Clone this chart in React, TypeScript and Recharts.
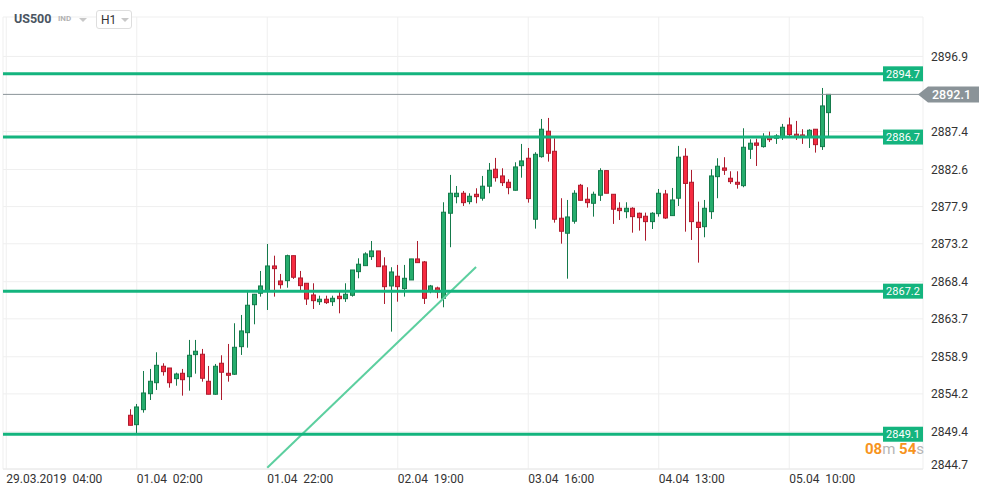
import React from "react";
import { Bar, CartesianGrid, ComposedChart, ReferenceLine, XAxis, YAxis } from "recharts";

// hourly candles, index 0 = 01.04 01:00
const open = [
  2851.5, 2850.31, 2852.21, 2854.23, 2855.62, 2857.7, 2857.48, 2856.13, 2856.81, 2856.38,
  2859.17, 2859.22, 2855.8, 2854.16, 2858.08, 2856.81, 2856.69, 2860.18, 2861.95, 2865.49,
  2866.94, 2867.26, 2870.39, 2868.49, 2868.53, 2871.69, 2868.87, 2868.2, 2866.72, 2865.87,
  2866.18, 2865.87, 2866.56, 2866.25, 2866.68, 2869.67, 2870.43, 2871.57, 2872.29, 2870.39,
  2867.86, 2869.09, 2867.52, 2868.62, 2871.28, 2870.9, 2867.26, 2867.61, 2866.3, 2877.06,
  2879.16, 2879.59, 2878.53, 2879.46, 2878.96, 2880.48, 2882.63, 2881.78, 2880.98, 2879.97,
  2883.08, 2884.02, 2876.3, 2884.22, 2887.44, 2884.9, 2876.43, 2874.53, 2876.05, 2880.6,
  2878.83, 2878.32, 2879.34, 2882.45, 2879.46, 2877.69, 2877.26, 2877.69, 2877.06, 2876.68,
  2876.0, 2877.01, 2879.5, 2876.76, 2878.96, 2884.27, 2880.98, 2875.92, 2875.36, 2877.26,
  2881.69, 2882.79, 2881.49, 2880.98, 2880.55, 2885.16, 2885.95, 2885.49, 2886.63, 2886.55,
  2886.75, 2888.23, 2887.06, 2886.97, 2886.75, 2887.69, 2885.49, 2889.79,
];
const high = [
  2852.26, 2852.93, 2857.1, 2857.36, 2859.47, 2858.08, 2857.48, 2856.89, 2857.36, 2861.03,
  2861.03, 2859.89, 2857.74, 2857.99, 2859.09, 2860.52, 2863.14, 2864.19, 2867.35, 2866.85,
  2869.76, 2873.17, 2871.69, 2869.38, 2871.82, 2871.69, 2869.76, 2868.2, 2868.2, 2866.63,
  2866.63, 2866.63, 2867.23, 2868.2, 2869.88, 2871.36, 2872.12, 2873.55, 2872.29, 2871.49,
  2870.23, 2870.52, 2870.52, 2871.28, 2873.55, 2871.02, 2867.99, 2867.77, 2878.45, 2881.91,
  2880.51, 2879.88, 2879.59, 2880.22, 2881.78, 2883.42, 2884.06, 2882.75, 2881.36, 2883.51,
  2885.83, 2885.32, 2884.78, 2888.99, 2889.12, 2886.55, 2878.96, 2878.74, 2879.97, 2880.77,
  2880.35, 2879.79, 2882.75, 2882.45, 2879.46, 2878.45, 2878.45, 2877.82, 2877.14, 2877.14,
  2877.19, 2880.13, 2880.01, 2880.26, 2885.58, 2885.28, 2882.54, 2878.53, 2878.74, 2882.63,
  2884.02, 2884.15, 2882.37, 2882.37, 2887.81, 2886.42, 2886.5, 2887.18, 2887.38, 2887.06,
  2888.36, 2889.16, 2888.74, 2887.69, 2887.69, 2887.69, 2892.91, 2892.1,
];
const low = [
  2850.23, 2849.13, 2851.83, 2853.43, 2854.7, 2856.51, 2854.99, 2855.24, 2853.98, 2854.61,
  2856.76, 2855.75, 2854.16, 2854.1, 2853.43, 2855.75, 2856.6, 2859.13, 2860.05, 2863.01,
  2866.51, 2864.82, 2866.51, 2867.52, 2867.64, 2868.75, 2867.14, 2865.46, 2864.95, 2865.46,
  2865.58, 2865.33, 2864.4, 2865.84, 2866.51, 2868.83, 2870.43, 2871.15, 2870.3, 2865.58,
  2862.08, 2865.87, 2866.51, 2868.62, 2870.81, 2865.58, 2866.94, 2866.3, 2865.16, 2872.76,
  2878.32, 2877.98, 2878.2, 2878.32, 2878.65, 2879.59, 2881.06, 2880.51, 2879.46, 2879.92,
  2881.56, 2878.4, 2875.11, 2884.09, 2883.59, 2875.87, 2873.21, 2868.78, 2875.74, 2878.7,
  2877.77, 2876.63, 2878.62, 2879.59, 2875.71, 2876.21, 2876.43, 2874.6, 2874.86, 2873.59,
  2875.07, 2876.63, 2876.34, 2876.76, 2877.98, 2874.73, 2873.68, 2870.81, 2874.02, 2876.34,
  2878.96, 2881.91, 2880.77, 2880.17, 2880.35, 2883.93, 2883.04, 2885.36, 2886.08, 2885.83,
  2886.33, 2886.68, 2886.33, 2885.83, 2885.32, 2884.73, 2885.07, 2886.75,
];
const close = [
  2850.23, 2852.55, 2854.32, 2855.8, 2857.82, 2857.02, 2855.62, 2856.72, 2856.0, 2859.09,
  2859.6, 2856.18, 2854.16, 2857.7, 2856.94, 2856.56, 2860.1, 2862.17, 2865.42, 2866.81,
  2867.86, 2870.39, 2870.05, 2868.02, 2871.69, 2868.96, 2867.9, 2866.21, 2866.0, 2866.18,
  2865.75, 2866.3, 2866.25, 2866.81, 2869.88, 2870.61, 2871.91, 2872.29, 2870.3, 2867.77,
  2869.63, 2867.77, 2868.83, 2871.28, 2870.81, 2866.3, 2867.86, 2867.1, 2877.19, 2879.59,
  2879.59, 2878.4, 2879.21, 2879.16, 2880.48, 2882.5, 2881.56, 2880.93, 2880.3, 2882.92,
  2883.68, 2878.91, 2884.52, 2887.69, 2884.65, 2876.3, 2874.78, 2876.59, 2879.59, 2878.7,
  2878.4, 2879.46, 2882.45, 2879.59, 2877.57, 2877.39, 2877.69, 2876.63, 2876.5, 2876.0,
  2877.06, 2879.59, 2876.46, 2878.74, 2884.15, 2880.83, 2876.0, 2875.26, 2877.69, 2881.78,
  2883.01, 2882.5, 2881.06, 2880.73, 2885.41, 2885.92, 2885.66, 2886.63, 2886.37, 2886.84,
  2887.94, 2887.01, 2886.75, 2886.75, 2887.56, 2885.74, 2890.64, 2892.1,
];

// time slots shown on the axis (candle index), first slot is 29.03.2019 04:00
const firstSlot = -19;
const lastSlot = 121;
const tickSlots = [-19, 1, 21, 41, 61, 81, 101];
const tickDates = ["29.03.2019", "01.04", "01.04", "02.04", "03.04", "04.04", "05.04"];
const tickTimes = ["04:00", "02:00", "22:00", "19:00", "16:00", "13:00", "10:00"];

const priceTicks = [2896.9, 2887.4, 2882.6, 2877.9, 2873.2, 2868.4, 2863.7, 2858.9, 2854.2, 2849.4, 2844.7];
const levels = [2894.7, 2886.7, 2867.2, 2849.1];
const lastPrice = 2892.1;
const trendFrom = { slot: 21, price: 2844.85 };
const trendTo = { slot: 53, price: 2870.26 };

const rows = [];
for (let s = firstSlot; s <= lastSlot; s++) {
  const has = s >= 0 && s < open.length;
  rows.push({
    slot: s,
    range: has ? [low[s], high[s]] : null,
    o: has ? open[s] : null,
    h: has ? high[s] : null,
    l: has ? low[s] : null,
    c: has ? close[s] : null,
  });
}

const UP = "#26ad6d";
const UP_EDGE = "#157a4b";
const DOWN = "#f52b40";
const DOWN_EDGE = "#ad1c2e";
const LEVEL = "#14b47e";

function Candle(props: any) {
  const { x, y, width, height, payload } = props;
  if (!payload || payload.o == null || !isFinite(y) || !isFinite(height)) return <g />;
  const { o, h, l, c } = payload;
  const up = c >= o;
  const py = (v: number) => y + ((h - v) / (h - l)) * height;
  const col = Math.round(x + width / 2 - 0.5);
  const top = py(Math.max(o, c));
  const bot = py(Math.min(o, c));
  return (
    <g>
      <line x1={col + 0.5} x2={col + 0.5} y1={y} y2={y + height} stroke={up ? UP_EDGE : DOWN_EDGE} />
      <rect
        x={col - 1.5}
        y={top}
        width={4}
        height={Math.max(bot - top, 1)}
        fill={up ? UP : DOWN}
        stroke={up ? UP_EDGE : DOWN_EDGE}
      />
    </g>
  );
}

function TimeTick(props: any) {
  const { x, y, payload } = props;
  const k = tickSlots.indexOf(payload.value);
  if (k < 0) return <g />;
  return (
    <text x={x} y={y + 14} fontSize={12} fill="#333" fontFamily="Roboto" style={{ whiteSpace: "pre" }}>
      {tickDates[k] + "  " + tickTimes[k]}
    </text>
  );
}

function PriceTick(props: any) {
  const { x, y, payload } = props;
  return (
    <text x={x + 8} y={Math.min(y, 465)} dy="0.35em" fontSize={12} fill="#333" fontFamily="Roboto">
      {payload.value.toFixed(1)}
    </text>
  );
}

function LevelTag(props: any) {
  const { viewBox, text } = props;
  const right = viewBox.x + viewBox.width;
  return (
    <g>
      <rect x={right - 40} y={viewBox.y - 7.5} width={40} height={15} fill={LEVEL} />
      <text x={right - 20} y={viewBox.y} dy="0.35em" textAnchor="middle" fontSize={11} fill="#fff" fontFamily="Roboto">
        {text}
      </text>
    </g>
  );
}

function PriceTag(props: any) {
  const { viewBox, text } = props;
  const r = viewBox.x + viewBox.width;
  const y = viewBox.y;
  const pts = `${r - 5},${y} ${r + 5},${y - 8} ${r + 56},${y - 8} ${r + 56},${y + 8} ${r + 5},${y + 8}`;
  return (
    <g>
      <polygon points={pts} fill="#8a9398" />
      <text x={r + 9} y={y} dy="0.35em" fontSize={12.5} fontWeight={500} fill="#fff" fontFamily="Roboto">
        {text}
      </text>
    </g>
  );
}

export default function App() {
  return (
    <div style={{ position: "absolute", left: 0, top: 0, width: 991, height: 495, background: "#fff", fontFamily: "Roboto" }}>
      <ComposedChart width={991} height={495} data={rows} margin={{ top: 17, right: 0, bottom: 0, left: 3 }}>
        <CartesianGrid stroke="#efefef" />
        <XAxis
          dataKey="slot"
          type="category"
          ticks={tickSlots}
          interval={0}
          height={26}
          tickSize={0}
          tickMargin={0}
          tickLine={false}
          axisLine={{ stroke: "#e8e8e8" }}
          tick={<TimeTick />}
        />
        <YAxis
          orientation="right"
          type="number"
          domain={[2844.7, 2901.89]}
          allowDataOverflow
          ticks={priceTicks}
          interval={0}
          width={68}
          tickSize={0}
          tickMargin={0}
          tickLine={false}
          axisLine={false}
          tick={<PriceTick />}
        />
        <Bar dataKey="range" barSize={5} shape={<Candle />} isAnimationActive={false} />
        <ReferenceLine
          segment={[
            { x: trendFrom.slot, y: trendFrom.price },
            { x: trendTo.slot, y: trendTo.price },
          ]}
          stroke="#5ccf9f"
          strokeWidth={2}
        />
        <ReferenceLine y={lastPrice} stroke="#8a9398" strokeWidth={1} label={<PriceTag text={lastPrice.toFixed(1)} />} />
        {levels.map((v) => (
          <ReferenceLine key={v} y={v} stroke={LEVEL} strokeWidth={3} label={<LevelTag text={v.toFixed(1)} />} />
        ))}
      </ComposedChart>

      <div style={{ position: "absolute", left: 14, top: 11, fontSize: 12.5, fontWeight: 700, color: "#4a5562" }}>US500</div>
      <div style={{ position: "absolute", left: 58, top: 14, fontSize: 8, fontWeight: 700, color: "#b3b3b3" }}>IND</div>
      <div style={{ position: "absolute", left: 79, top: 18, width: 0, height: 0, borderLeft: "4px solid transparent", borderRight: "4px solid transparent", borderTop: "4px solid #c8c8c8" }} />
      <div style={{ position: "absolute", left: 96, top: 10, width: 34, height: 17, border: "1px solid #dedede", borderRadius: 3, background: "#fff" }}>
        <span style={{ position: "absolute", left: 4, top: 2, fontSize: 12, color: "#333" }}>H1</span>
        <span style={{ position: "absolute", left: 24, top: 7, width: 0, height: 0, borderLeft: "4px solid transparent", borderRight: "4px solid transparent", borderTop: "4px solid #c8c8c8" }} />
      </div>
      <div style={{ position: "absolute", left: 865, top: 440, fontSize: 15, fontWeight: 700, whiteSpace: "pre" }}>
        <span style={{ color: "#f7941d" }}>08</span>
        <span style={{ color: "#b5b5b5", fontWeight: 400 }}>m </span>
        <span style={{ color: "#f7941d" }}>54</span>
        <span style={{ color: "#b5b5b5", fontWeight: 400 }}>s</span>
      </div>
    </div>
  );
}
